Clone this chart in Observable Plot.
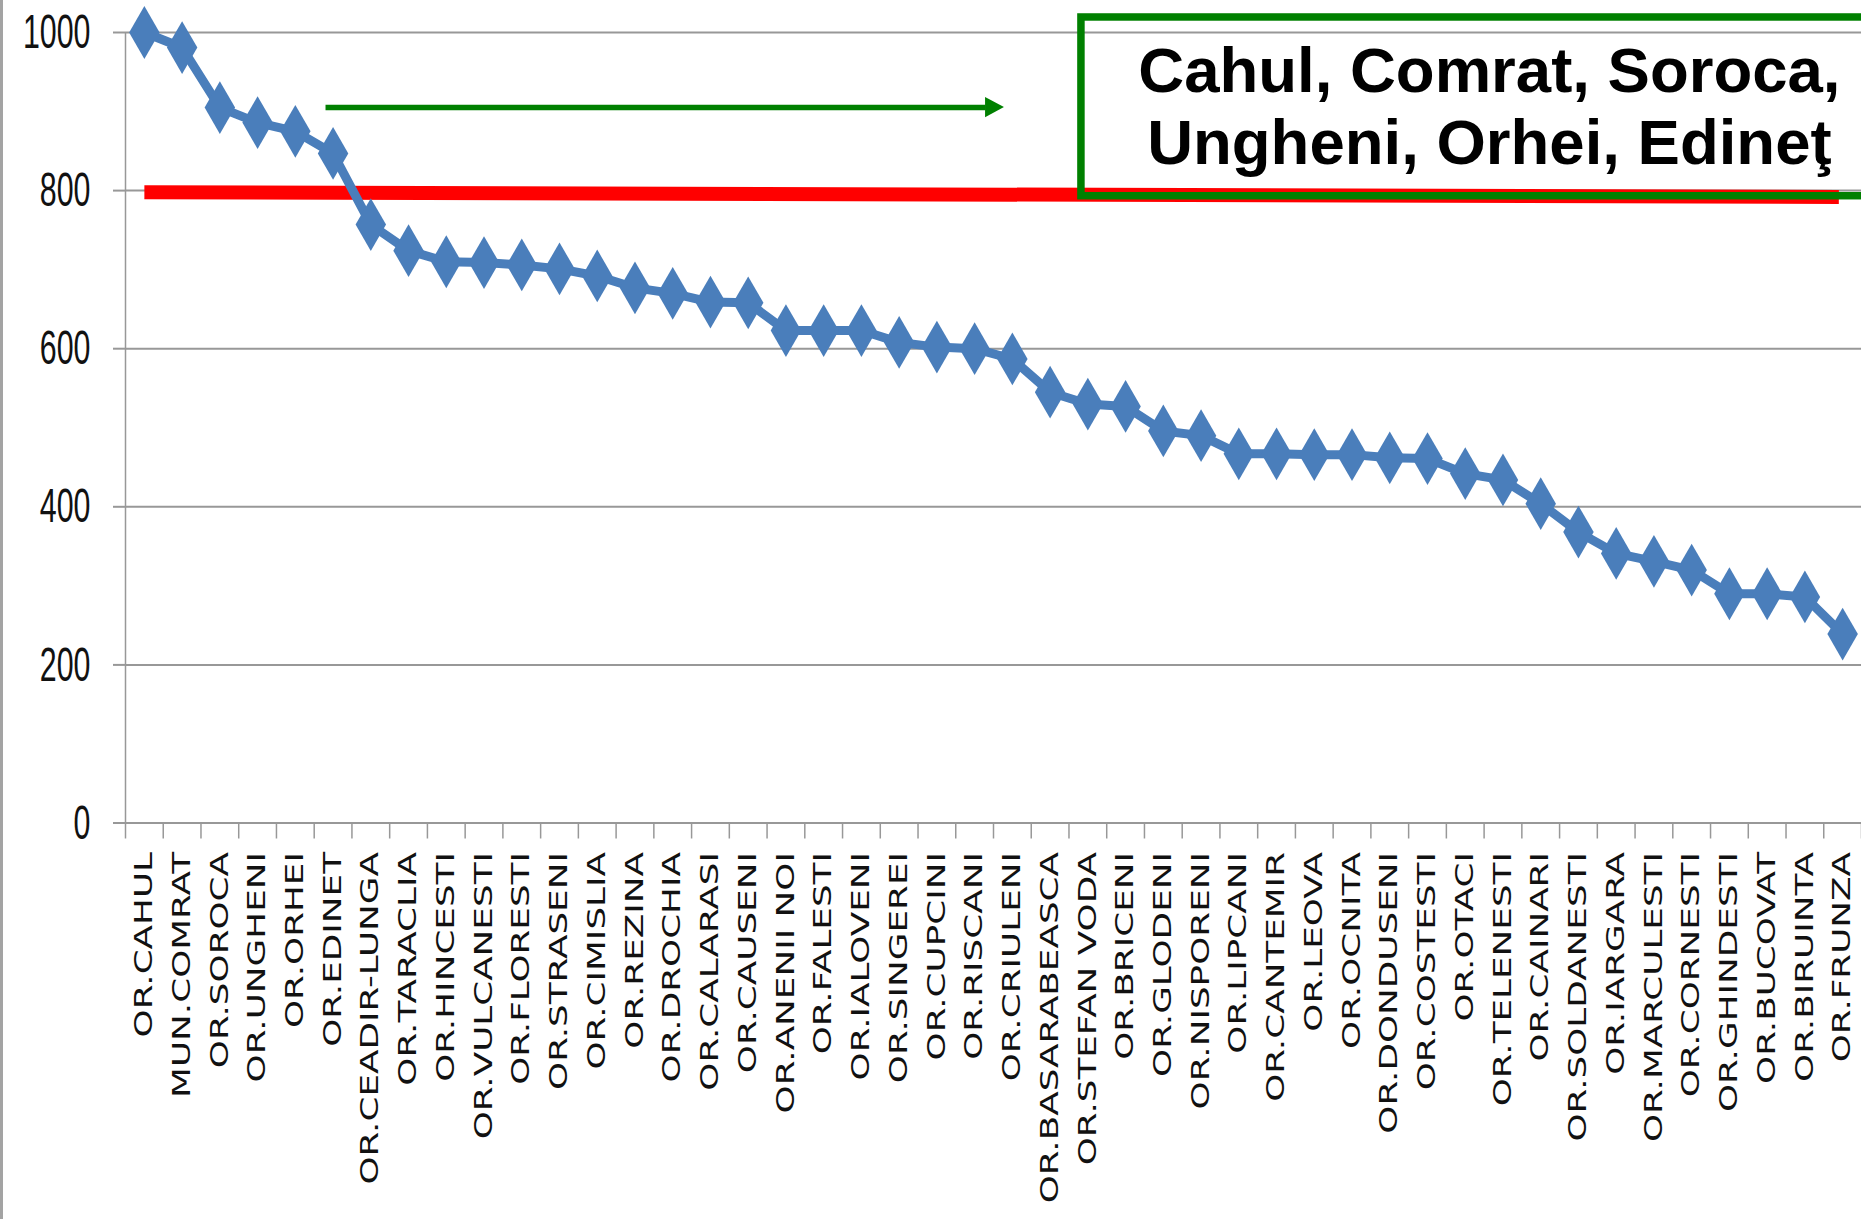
<!DOCTYPE html>
<html><head><meta charset="utf-8">
<script src="https://cdn.jsdelivr.net/npm/d3@7"></script>
<script src="https://cdn.jsdelivr.net/npm/@observablehq/plot@0.6"></script>
<style>
body{margin:0;background:#fff;}
#wrap{position:relative;width:1861px;height:1219px;overflow:hidden;background:#fff;}
#edge{position:absolute;left:0;top:0;width:3px;height:1219px;background:#a3a3a3;}
</style></head><body><div id="wrap"><div id="edge"></div></div>
<script>
const categories = ["OR.CAHUL","MUN.COMRAT","OR.SOROCA","OR.UNGHENI","OR.ORHEI","OR.EDINET","OR.CEADIR-LUNGA","OR.TARACLIA","OR.HINCESTI","OR.VULCANESTI","OR.FLORESTI","OR.STRASENI","OR.CIMISLIA","OR.REZINA","OR.DROCHIA","OR.CALARASI","OR.CAUSENI","OR.ANENII NOI","OR.FALESTI","OR.IALOVENI","OR.SINGEREI","OR.CUPCINI","OR.RISCANI","OR.CRIULENI","OR.BASARABEASCA","OR.STEFAN VODA","OR.BRICENI","OR.GLODENI","OR.NISPORENI","OR.LIPCANI","OR.CANTEMIR","OR.LEOVA","OR.OCNITA","OR.DONDUSENI","OR.COSTESTI","OR.OTACI","OR.TELENESTI","OR.CAINARI","OR.SOLDANESTI","OR.IARGARA","OR.MARCULESTI","OR.CORNESTI","OR.GHINDESTI","OR.BUCOVAT","OR.BIRUINTA","OR.FRUNZA"];
const values = [1000,981,905,886,875,847,757,724,710,709,706,701,692,677,670,659,658,623,623,623,608,602,600,587,545,530,527,496,490,467,467,466,466,462,461,442,434,404,368,341,331,320,290,290,286,239];
const yTicks = [0,200,400,600,800,1000];
// red reference line (start / end category index and level)
const thresholdX = [0, 44.9];
const thresholdY = [798, 792];
// green arrow: start, head base, tip (category index units), level and head half-height (value units)
const arrowX = [4.8, 22.29, 22.79];
const arrowY = 905;
const arrowHalf = 12.7;
// green annotation box
const boxX = [24.83, 47];
const boxY = [792.9, 1019];
const boxText = "Cahul, Comrat, Soroca,\nUngheni, Orhei, Edineţ";
const boxTextX = 35.64;
const boxTextY = 990;

const data = categories.map((c, i) => ({i, name: c, value: values[i]}));
const boundaries = d3.range(categories.length + 1).map(i => i - 0.5);
const GREEN = "#008000", BLUE = "#4a7ebb", GREY = "#989898";

const chart = Plot.plot({
  width: 1861, height: 1219,
  marginLeft: 125, marginRight: 0, marginTop: 32, marginBottom: 396.5,
  x: {domain: [-0.5, categories.length - 0.5]},
  y: {domain: [0, 1000]},
  style: {fontFamily: "DejaVu Sans", background: "transparent", color: "#000"},
  marks: [
    Plot.gridY({ticks: yTicks, stroke: GREY, strokeOpacity: 1, strokeWidth: 2}),
    Plot.ruleX([-0.5], {stroke: GREY, strokeWidth: 1.5}),
    Plot.axisY({ticks: yTicks, tickFormat: d => String(d), tickSize: 12, tickPadding: 23, stroke: GREY, strokeWidth: 2, fontSize: 49, fontFamily: "Liberation Sans, Arial", fill: "#111", label: null}),
    Plot.axisX({ticks: boundaries, tickSize: 16, tickFormat: () => "", stroke: GREY, strokeWidth: 1.5, label: null}),
    Plot.axisX({ticks: d3.range(categories.length), tickSize: 0, tickPadding: 29, tickRotate: -90, tickFormat: i => categories[i], fontSize: 24, fontFamily: "DejaVu Sans", fill: "#111", label: null}),
    Plot.line(thresholdX.map((x, k) => ({x, y: thresholdY[k]})), {x: "x", y: "y", stroke: "#ff0000", strokeWidth: 14, strokeLinecap: "butt"}),
    Plot.line(data, {x: "i", y: "value", stroke: BLUE, strokeWidth: 9}),
    Plot.dot(data, {x: "i", y: "value", symbol: "diamond", r: 16, fill: BLUE, stroke: "none"}),
    Plot.link([{x1: arrowX[0], x2: arrowX[1], y: arrowY}], {x1: "x1", x2: "x2", y1: "y", y2: "y", stroke: GREEN, strokeWidth: 5.5, strokeLinecap: "butt"}),
    Plot.areaY([{x: arrowX[1], y1: arrowY - arrowHalf, y2: arrowY + arrowHalf}, {x: arrowX[2], y1: arrowY, y2: arrowY}], {x: "x", y1: "y1", y2: "y2", fill: GREEN}),
    Plot.rect([0], {x1: boxX[0], x2: boxX[1], y1: boxY[0], y2: boxY[1], fill: "none", stroke: GREEN, strokeWidth: 7.5}),
    Plot.text([boxText], {x: boxTextX, y: boxTextY, text: d => d, fontSize: 63.5, fontWeight: "bold", fontFamily: "Liberation Sans, Arial", textAnchor: "middle", lineAnchor: "top", lineHeight: 1.14, fill: "#000"})
  ]
});

function squeeze(sel, sx, sy) {
  sel.each(function () {
    const t = this.getAttribute("transform");
    if (t) {
      this.setAttribute("transform", t + ` scale(${sx},${sy})`);
    } else {
      const x = +this.getAttribute("x") || 0, y = +this.getAttribute("y") || 0;
      this.removeAttribute("x"); this.removeAttribute("y");
      this.setAttribute("transform", `translate(${x},${y}) scale(${sx},${sy})`);
    }
  });
}
const s = d3.select(chart);
squeeze(s.selectAll('g[aria-label="y-axis tick label"] text'), 0.62, 1);
squeeze(s.selectAll('g[aria-label="x-axis tick label"] text'), 1.49, 1);

document.getElementById("wrap").appendChild(chart);
</script></body></html>
